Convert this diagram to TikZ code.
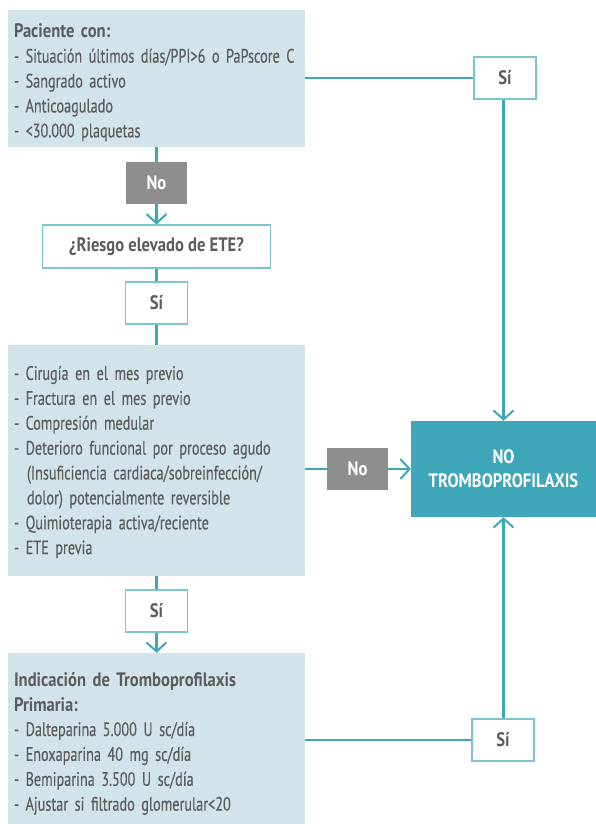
\documentclass[tikz,border=0pt]{standalone}
\usepackage{fontspec}
\setmainfont{PT Sans}[
  UprightFeatures={FakeStretch=0.73, FakeBold=0.3},
  BoldFeatures={FakeStretch=0.85}]
\usetikzlibrary{arrows.meta}
\definecolor{boxblue}{HTML}{D3E3EA}
\definecolor{tealline}{HTML}{3EA6B8}
\definecolor{tealedge}{HTML}{7CC4CE}
\definecolor{nogray}{HTML}{8E8E8E}
\definecolor{txtgray}{HTML}{5C5C5C}

\begin{document}
\begin{tikzpicture}[x=1pt,y=-1pt,
  basefont/.style={font=\fontsize{19.5}{24.9}\selectfont},
  infobox/.style={rectangle, fill=boxblue, inner xsep=6pt, inner ysep=0pt,
    align=left, text width=285pt, minimum height=#1, basefont, text=txtgray},
  yesbox/.style={rectangle, draw=tealedge, line width=1.2pt, fill=white,
    minimum width=62pt, minimum height=42pt, inner sep=0pt,
    font=\fontsize{19.5}{24.9}\selectfont\bfseries, text=txtgray},
  nobox/.style={rectangle, fill=nogray, minimum width=61pt, minimum height=42pt,
    inner sep=0pt, font=\fontsize{19.5}{24.9}\selectfont\bfseries, text=white},
  questionbox/.style={rectangle, draw=tealedge, line width=1.2pt, fill=white,
    minimum width=228pt, minimum height=43pt, inner sep=0pt,
    font=\fontsize{19.5}{24.9}\selectfont\bfseries, text=txtgray},
  resultbox/.style={rectangle, fill=tealline, minimum width=185pt, minimum height=96pt,
    inner sep=0pt, align=center, font=\fontsize{19.5}{24}\selectfont\bfseries, text=white},
  link/.style={draw=tealline, line width=2.3pt},
  arrowlink/.style={link, -{Straight Barb[length=9pt, width=20pt, line width=2pt]}}
]
\fill[white] (0,0) rectangle (596,824);
\useasboundingbox (0,0) rectangle (596,824);

% left column
\node[infobox=137pt] (crit) at (156.5,78.5) {\rule{0pt}{22pt}\textbf{Paciente con:}\\
- Situación últimos días/PPI>6 o PaPscore C\\
- Sangrado activo\\
- Anticoagulado\\
- <30.000 plaquetas};

\node[nobox] (noA) at (156.5,183) {No};
\node[questionbox] (ete) at (156.5,246.5) {¿Riesgo elevado de ETE?};
\node[yesbox] (siA) at (156.5,303) {Sí};

\node[infobox=231pt] (risk) at (156.5,460.5) {\rule{0pt}{17pt}- Cirugía en el mes previo\\
- Fractura en el mes previo\\
- Compresión medular\\
- Deterioro funcional por proceso agudo\\
\hspace*{13pt}(Insuficiencia cardiaca/sobreinfección/\\
\hspace*{13pt}dolor) potencialmente reversible\\
- Quimioterapia activa/reciente\\
- ETE previa};

\node[yesbox] (siB) at (156.5,611) {Sí};

\node[infobox=171pt] (indic) at (156.5,738.5) {\rule{0pt}{24pt}\textbf{Indicación de Tromboprofilaxis}\\
\textbf{Primaria:}\\
- Dalteparina 5.000 U sc/día\\
- Enoxaparina 40 mg sc/día\\
- Bemiparina 3.500 U sc/día\\
- Ajustar si filtrado glomerular<20};

% right column
\node[resultbox] (none) at (503.5,469) {NO\\TROMBOPROFILAXIS};
\node[yesbox] (siTop) at (505,78) {Sí};
\node[nobox] (noB) at (357.5,469) {No};
\node[yesbox] (siBot) at (503,740) {Sí};

% connectors
\draw[link] (crit.south) -- (noA.north);
\draw[arrowlink] (noA.south) -- (ete.north);
\draw[link] (ete.south) -- (siA.north);
\draw[link] (siA.south) -- (risk.north);
\draw[link] (risk.south) -- (siB.north);
\draw[arrowlink] (siB.south) -- (indic.north);

\draw[link] (crit.east |- siTop.west) -- (siTop.west);
\draw[arrowlink] (siTop.south -| none.north) -- (none.north);
\draw[link] (risk.east |- noB.west) -- (noB.west);
\draw[arrowlink] (noB.east) -- (none.west);
\draw[link] (indic.east |- siBot.west) -- (siBot.west);
\draw[arrowlink] (siBot.north -| none.south) -- (none.south);
\end{tikzpicture}
\end{document}
